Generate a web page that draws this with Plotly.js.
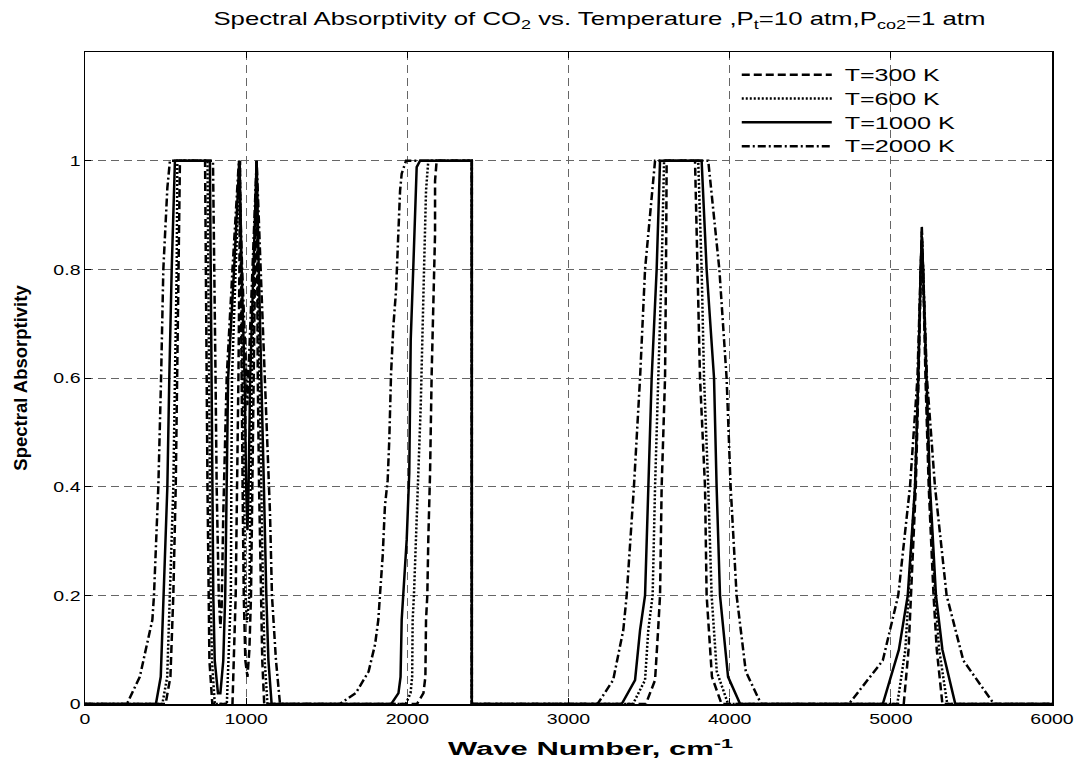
<!DOCTYPE html>
<html>
<head>
<meta charset="utf-8">
<script src="https://cdn.plot.ly/plotly-3.0.1.min.js"></script>
<style>html,body{margin:0;padding:0;background:#fff;}#chart{width:1080px;height:775px;}</style>
</head>
<body>
<div id="chart"></div>
<script>
// Series names
const seriesNames = ["T=300 K", "T=600 K", "T=1000 K", "T=2000 K"];

// T = 300 K (dashed)
const x300 = [0,500,530,548,563,573,579,589,745,752,755,760,765,772,790,
  915,935,945,952,958,962,966,970,978,985,995,1008,1020,1030,1038,1044,1055,1065,1068,1072,1080,1090,1100,1112,
  2060,2100,2112,2116,2124,2130,2141,2151,2161,2172,2172,2182,2400,2400,
  3480,3537,3556,3568,3578,3599,3605,3609,3785,3799,3816,3847,3857,3890,3950,
  5080,5110,5125,5155,5172,5185,5192,5200,5215,5235,5265,5285,5320,6000];
const y300 = [0,0,0.05,0.2,0.4,0.6,0.8,1,1,0.8,0.6,0.4,0.2,0.08,0,
  0,0.2,0.4,0.6,0.8,1,0.8,0.6,0.4,0.2,0.08,0.05,0.1,0.2,0.4,0.6,0.8,1,0.8,0.6,0.4,0.2,0.08,0,
  0,0.02,0.05,0.155,0.2,0.302,0.425,0.608,0.731,0.865,0.963,1,1,0,
  0,0.044,0.136,0.2,0.4,0.6,0.8,1,1,0.8,0.6,0.4,0.2,0.05,0,
  0,0.1,0.2,0.4,0.6,0.8,0.88,0.8,0.6,0.4,0.2,0.1,0,0];

// T = 600 K (dotted)
const x600 = [0,480,510,527,548,558,569,573,760,765,770,775,780,788,805,
  880,905,908,912,935,960,968,980,988,995,1005,1020,1028,1035,1050,1065,1072,1082,1092,1105,1115,1132,
  1990,2020,2030,2033,2041,2062,2083,2103,2116,2130,2400,2400,
  3400,3475,3495,3522,3537,3557,3578,3593,3805,3826,3841,3867,3888,3920,3990,
  5040,5090,5110,5150,5170,5185,5192,5200,5218,5240,5275,5300,5350,6000];
const y600 = [0,0,0.05,0.2,0.4,0.6,0.8,1,1,0.8,0.6,0.4,0.2,0.08,0,
  0,0.2,0.4,0.6,0.8,1,0.8,0.6,0.4,0.2,0.15,0.2,0.4,0.6,0.8,1,0.8,0.6,0.4,0.2,0.08,0,
  0,0.02,0.05,0.155,0.2,0.394,0.547,0.792,0.945,1,1,0,
  0,0.044,0.136,0.2,0.4,0.6,0.8,1,1,0.8,0.6,0.4,0.2,0.06,0,
  0,0.1,0.2,0.4,0.6,0.8,0.87,0.8,0.6,0.4,0.2,0.1,0,0];

// T = 1000 K (solid)
const x1000 = [0,440,470,486,511,523,538,558,775,780,786,790,796,805,825,
  840,858,870,880,888,925,958,972,990,1000,1008,1015,1025,1045,1065,1078,1096,1110,1125,1138,1158,
  1900,1945,1958,1965,1975,1996,2012,2021,2037,2054,2058,2079,2400,2400,
  3330,3413,3444,3475,3495,3516,3547,3568,3826,3857,3903,3919,3940,3990,4065,
  4950,5050,5105,5150,5170,5185,5192,5200,5220,5243,5280,5320,5400,6000];
const y1000 = [0,0,0.05,0.2,0.4,0.6,0.8,1,1,0.8,0.6,0.4,0.2,0.08,0.02,
  0.02,0.08,0.2,0.4,0.6,0.8,1,0.8,0.6,0.4,0.32,0.4,0.6,0.8,1,0.8,0.6,0.4,0.2,0.08,0,
  0,0.02,0.05,0.155,0.2,0.302,0.425,0.67,0.804,0.927,0.988,1,1,0,
  0,0.044,0.136,0.2,0.4,0.6,0.8,1,1,0.8,0.6,0.4,0.2,0.05,0,
  0,0.1,0.2,0.4,0.6,0.8,0.86,0.8,0.6,0.4,0.2,0.1,0,0];

// T = 2000 K (dash-dot)
const x2000 = [0,260,340,418,428,455,472,486,511,527,794,800,810,817,830,840,
  848,858,869,879,915,955,975,1003,1008,1013,1040,1065,1090,1117,1135,1148,1160,1168,1185,1210,
  1580,1680,1760,1800,1820,1830,1847,1861,1878,1888,1899,1913,1930,1944,1955,1965,1992,2400,2400,
  3180,3277,3340,3361,3406,3444,3475,3537,3867,3936,3981,4006,4043,4100,4195,
  4740,4950,5046,5119,5165,5185,5192,5200,5224,5274,5346,5450,5640,6000];
const y2000 = [0,0,0.05,0.155,0.2,0.4,0.6,0.8,0.95,1,1,0.8,0.6,0.4,0.2,0.14,
  0.18,0.35,0.5,0.6,0.8,1,0.8,0.6,0.55,0.6,0.8,1,0.8,0.6,0.45,0.35,0.2,0.16,0.08,0,
  0,0.02,0.06,0.11,0.155,0.2,0.272,0.364,0.412,0.486,0.608,0.694,0.761,0.865,0.945,0.976,1,1,0,
  0,0.044,0.136,0.2,0.4,0.6,0.8,1,1,0.8,0.6,0.4,0.2,0.06,0,
  0,0.08,0.2,0.4,0.6,0.8,0.85,0.8,0.6,0.4,0.2,0.08,0,0];

const xTicks = [0,1000,2000,3000,4000,5000,6000];
const yTicks = [0,0.2,0.4,0.6,0.8,1];

const xs = [x300, x600, x1000, x2000];
const ys = [y300, y600, y1000, y2000];
const dashes = ["8px,4px", "2px,2px", "solid", "8px,3px,2px,3px"];

const traces = seriesNames.map((n, i) => ({
  x: xs[i], y: ys[i], name: n, type: "scatter", mode: "lines",
  line: {color: "#000", width: 2.5, dash: dashes[i]}
}));

const font = "Liberation Sans, Arial, sans-serif";
const TITLE_SIZE = 19, XTITLE_SIZE = 18;
const layout = {
  width: 1080, height: 775,
  margin: {l: 85, r: 28, t: 52, b: 71},
  paper_bgcolor: "#fff", plot_bgcolor: "#fff",
  font: {family: font, color: "#000", size: 15},
  title: {
    text: "Spectral Absorptivity of CO<sub>2</sub> vs. Temperature ,P<sub>t</sub>=10 atm,P<sub>co2</sub>=1 atm",
    font: {family: font, size: TITLE_SIZE, color: "#000"},
    x: 0.555, xref: "container", xanchor: "center", y: 0.985, yref: "container", yanchor: "top"
  },
  xaxis: {
    range: [0, 6000], tickvals: xTicks, ticktext: xTicks.map(String),
    ticks: "inside", ticklen: 6, tickcolor: "#000",
    showline: true, linecolor: "#000", linewidth: 1.5, mirror: "ticks",
    showgrid: true, gridcolor: "#666", griddash: "8px,5px", gridwidth: 1,
    zeroline: false, tickfont: {size: 15},
    title: {text: "<b>Wave Number, cm<sup>-1</sup></b>", font: {size: XTITLE_SIZE}, standoff: 17}
  },
  yaxis: {
    range: [0, 1.2], tickvals: yTicks, ticktext: yTicks.map(String),
    ticks: "inside", ticklen: 6, tickcolor: "#000",
    showline: true, linecolor: "#000", linewidth: 1.5, mirror: "ticks",
    showgrid: true, gridcolor: "#666", griddash: "8px,5px", gridwidth: 1,
    zeroline: false, tickfont: {size: 15},
    title: {text: "<b>Spectral Absorptivity</b>", font: {size: 18.5}, standoff: 27}
  },
  showlegend: true,
  legend: {
    x: 0.674, y: 0.991, xanchor: "left", yanchor: "top",
    bgcolor: "rgba(0,0,0,0)", borderwidth: 0,
    font: {size: 16}, itemwidth: 90, tracegroupgap: 0
  }
};

const SVGNS = "http://www.w3.org/2000/svg";
const ZW = /\u200b/g;

// Give every span of a title an explicit size, fold the empty baseline-reset spans
// into real text and drop the zero-width spacer characters
function tidySubSup(textEl, basePx) {
  Array.from(textEl.querySelectorAll("tspan")).forEach(ts => {
    if (ts.textContent.replace(ZW, "") !== "") return;
    const dy = ts.getAttribute("dy");
    const next = ts.nextSibling;
    if (next && next.nodeType === 3 && next.textContent.replace(ZW, "").length) {
      const w = document.createElementNS(SVGNS, "tspan");
      if (dy) w.setAttribute("dy", dy);
      ts.parentNode.insertBefore(w, next);
      w.appendChild(next);
    }
    ts.remove();
  });
  const walker = document.createTreeWalker(textEl, NodeFilter.SHOW_TEXT);
  const nodes = [];
  while (walker.nextNode()) nodes.push(walker.currentNode);
  nodes.forEach(n => {
    const s = n.textContent.replace(ZW, "");
    if (s.length) n.textContent = s; else n.remove();
  });
  textEl.querySelectorAll("tspan").forEach(ts => {
    const fs = ts.style.fontSize;
    if (fs && fs.endsWith("%")) ts.style.fontSize = (basePx * parseFloat(fs) / 100).toFixed(1) + "px";
    else if (!fs) ts.style.fontSize = basePx + "px";
  });
}

// Horizontal widening of the texts, as in the reference picture
function widen(el, k, target) {
  const w = el.getComputedTextLength();
  if (!w) return;
  el.setAttribute("textLength", target ? target : w * k);
  el.setAttribute("lengthAdjust", "spacingAndGlyphs");
}

Plotly.newPlot("chart", traces, layout, {displayModeBar: false, staticPlot: true}).then(() => {
  document.querySelectorAll(".gtitle").forEach(t => tidySubSup(t, TITLE_SIZE));
  document.querySelectorAll(".xtitle").forEach(t => tidySubSup(t, XTITLE_SIZE));
  document.querySelectorAll(".xtick text, .ytick text").forEach(t => widen(t, 1.3));
  document.querySelectorAll(".gtitle").forEach(t => widen(t, 0, 772));
  document.querySelectorAll(".xtitle").forEach(t => {
    widen(t, 0, 285);
    t.setAttribute("x", parseFloat(t.getAttribute("x")) + 22);
  });
  document.querySelectorAll(".legend .scrollbox").forEach(s => s.removeAttribute("clip-path"));
  document.querySelectorAll(".legend .bg").forEach(s => s.setAttribute("width", 340));
  document.querySelectorAll(".legendtext").forEach(t => {
    const long = t.textContent.length > 7;
    widen(t, 0, long ? 110 : 95);
    t.setAttribute("x", parseFloat(t.getAttribute("x") || 0) + 8);
  });
});
</script>
</body>
</html>
